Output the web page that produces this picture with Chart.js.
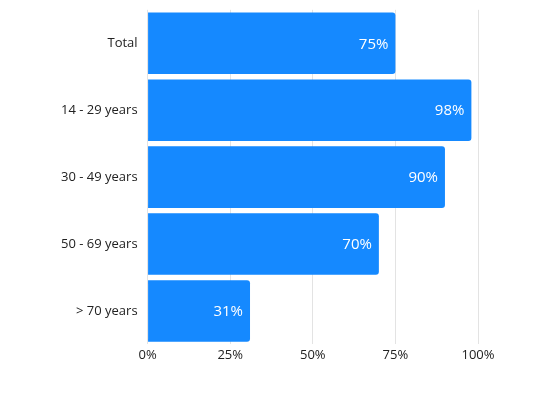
<!DOCTYPE html>
<html>
<head>
<meta charset="utf-8">
<script src="https://cdn.jsdelivr.net/npm/chart.js@4/dist/chart.umd.min.js"></script>
<style>
  html, body { margin: 0; padding: 0; background: #fff; }
  #wrap { width: 560px; height: 420px; }
</style>
</head>
<body>
<div id="wrap"><canvas id="ageChart"></canvas></div>
<script>
const categories = ["Total", "14 - 29 years", "30 - 49 years", "50 - 69 years", "> 70 years"];
const shares = [75, 98, 90, 70, 31];
const xTicks = [0, 25, 50, 75, 100];

// draws the value at the end of each bar, inside
const barLabels = {
  id: "barLabels",
  afterDatasetsDraw(chart) {
    const ctx = chart.ctx;
    const meta = chart.getDatasetMeta(0);
    ctx.save();
    ctx.font = "15px 'Open Sans'";
    ctx.fillStyle = "#ffffff";
    ctx.textAlign = "right";
    ctx.textBaseline = "middle";
    meta.data.forEach((bar, i) => {
      ctx.fillText(shares[i] + "%", bar.x - 7, bar.y + 1);
    });
    ctx.restore();
  },
};

new Chart(document.getElementById("ageChart"), {
  type: "bar",
  data: {
    labels: categories,
    datasets: [
      {
        data: shares,
        backgroundColor: "#1589ff",
        borderRadius: { topRight: 3, bottomRight: 3 },
        borderSkipped: false,
        barPercentage: 0.92,
        categoryPercentage: 1,
      },
    ],
  },
  options: {
    indexAxis: "y",
    responsive: true,
    maintainAspectRatio: false,
    animation: false,
    layout: { padding: { top: -8, right: 82, bottom: 54, left: 59 } },
    plugins: { legend: { display: false }, tooltip: { enabled: false } },
    scales: {
      x: {
        min: 0,
        max: 100,
        afterBuildTicks: (axis) => {
          axis.ticks = xTicks.map((v) => ({ value: v }));
        },
        grid: { color: "#e3e3e3", drawTicks: false },
        border: { display: false },
        ticks: {
          padding: 3,
          color: "#222",
          font: { family: "'Open Sans'", size: 13 },
          callback: (v) => v + "%",
        },
      },
      y: {
        grid: { display: false },
        border: { display: false },
        ticks: {
          padding: 2,
          color: "#222",
          font: { family: "'Open Sans'", size: 13 },
        },
      },
    },
  },
  plugins: [barLabels],
});
</script>
</body>
</html>
